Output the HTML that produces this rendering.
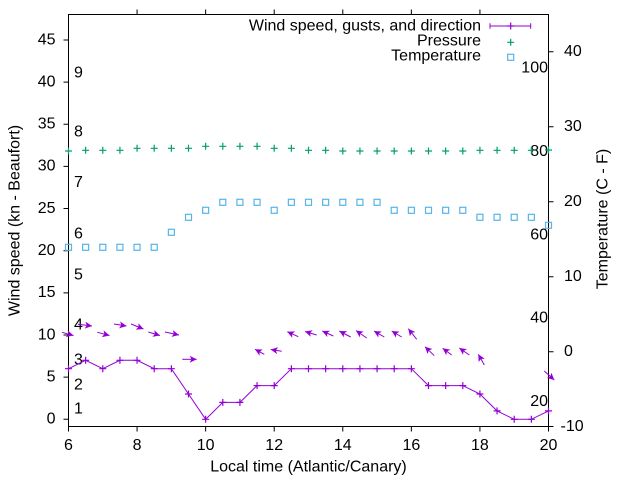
<!DOCTYPE html>
<html>
<head>
<meta charset="utf-8">
<style>
  html,body{margin:0;padding:0;background:#fff;}
  svg{display:block;}
  text{font-family:"Liberation Sans",Arial,sans-serif;font-size:16px;fill:#000;}
</style>
</head>
<body>
<svg width="640" height="480" viewBox="0 0 640 480" xmlns="http://www.w3.org/2000/svg">
  <defs>
    <path id="pl" d="M-3.5,0h7M0,-3.5v7" fill="none"/>
    <rect id="sq" x="-3" y="-3" width="6" height="6" fill="none"/>
    <marker id="ah" viewBox="0 0 10 10" refX="10" refY="5" markerWidth="7" markerHeight="7" orient="auto" markerUnits="userSpaceOnUse">
      <path d="M0,0 L10,5 L0,10 L2.5,5 z" fill="#9400d3"/>
    </marker>
  </defs>
  <rect x="0" y="0" width="640" height="480" fill="#fff"/>

  <!-- frame -->
  <rect x="68.5" y="14.5" width="480" height="412" fill="none" stroke="#000" stroke-width="1"/>

  <!-- left ticks -->
  <g stroke="#000" stroke-width="1">
    <path d="M63.5,419.3h5M63.5,377.15h5M63.5,335h5M63.5,292.85h5M63.5,250.7h5M63.5,208.55h5M63.5,166.4h5M63.5,124.25h5M63.5,82.1h5M63.5,39.95h5"/>
    <!-- bottom ticks -->
    <path d="M68.5,426.5v5M137.07,426.5v5M205.64,426.5v5M274.21,426.5v5M342.79,426.5v5M411.36,426.5v5M479.93,426.5v5M548.5,426.5v5"/>
    <!-- top ticks -->
    <path d="M137.07,14.5v-5M205.64,14.5v-5M274.21,14.5v-5M342.79,14.5v-5M411.36,14.5v-5M479.93,14.5v-5"/>
    <!-- right ticks -->
    <path d="M548.5,51.7h5M548.5,126.7h5M548.5,201.7h5M548.5,276.7h5M548.5,351.7h5M548.5,426.5h5"/>
  </g>

  <!-- left tick labels -->
  <g text-anchor="end">
    <text x="55.5" y="423.6">0</text>
    <text x="55.5" y="381.5">5</text>
    <text x="55.5" y="339.3">10</text>
    <text x="55.5" y="297.2">15</text>
    <text x="55.5" y="255">20</text>
    <text x="55.5" y="212.9">25</text>
    <text x="55.5" y="170.7">30</text>
    <text x="55.5" y="128.6">35</text>
    <text x="55.5" y="86.5">40</text>
    <text x="55.5" y="44.6">45</text>
  </g>

  <!-- bottom tick labels -->
  <g text-anchor="middle">
    <text x="68.5" y="450">6</text>
    <text x="137.07" y="450">8</text>
    <text x="205.64" y="450">10</text>
    <text x="274.21" y="450">12</text>
    <text x="342.79" y="450">14</text>
    <text x="411.36" y="450">16</text>
    <text x="479.93" y="450">18</text>
    <text x="548.5" y="450">20</text>
  </g>

  <!-- right tick labels (C) -->
  <g>
    <text x="564" y="56">40</text>
    <text x="564" y="131">30</text>
    <text x="564" y="206">20</text>
    <text x="564" y="281">10</text>
    <text x="564" y="356">0</text>
    <text x="560.5" y="431">-10</text>
  </g>

  <!-- Fahrenheit labels inside -->
  <g text-anchor="end">
    <text x="548" y="72.7">100</text>
    <text x="548" y="156">80</text>
    <text x="548" y="239.3">60</text>
    <text x="548" y="322.7">40</text>
    <text x="548" y="406">20</text>
  </g>

  <!-- Beaufort labels inside -->
  <g>
    <text x="74" y="413.3">1</text>
    <text x="74" y="389.3">2</text>
    <text x="74" y="364.3">3</text>
    <text x="74" y="329.3">4</text>
    <text x="74" y="279.5">5</text>
    <text x="74" y="238.3">6</text>
    <text x="74" y="187">7</text>
    <text x="74" y="136.7">8</text>
    <text x="74" y="77.3">9</text>
  </g>

  <!-- axis titles -->
  <text x="308.5" y="471.7" text-anchor="middle">Local time (Atlantic/Canary)</text>
  <text transform="translate(19.3,220.5) rotate(-90)" text-anchor="middle">Wind speed (kn - Beaufort)</text>
  <text transform="translate(607.7,219) rotate(-90)" text-anchor="middle">Temperature (C - F)</text>

  <!-- pressure -->
  <g stroke="#009e73" stroke-width="1.2">
    <use href="#pl" x="68.5" y="151"/>
    <use href="#pl" x="85.64" y="150.3"/>
    <use href="#pl" x="102.79" y="150.3"/>
    <use href="#pl" x="119.93" y="150.3"/>
    <use href="#pl" x="137.07" y="148.3"/>
    <use href="#pl" x="154.21" y="148.3"/>
    <use href="#pl" x="171.36" y="148.3"/>
    <use href="#pl" x="188.5" y="148.3"/>
    <use href="#pl" x="205.64" y="146.3"/>
    <use href="#pl" x="222.79" y="146.3"/>
    <use href="#pl" x="239.93" y="146.3"/>
    <use href="#pl" x="257.07" y="146.3"/>
    <use href="#pl" x="274.21" y="148.3"/>
    <use href="#pl" x="291.36" y="148.3"/>
    <use href="#pl" x="308.5" y="150.3"/>
    <use href="#pl" x="325.64" y="150.3"/>
    <use href="#pl" x="342.79" y="151"/>
    <use href="#pl" x="359.93" y="151"/>
    <use href="#pl" x="377.07" y="151"/>
    <use href="#pl" x="394.21" y="151"/>
    <use href="#pl" x="411.36" y="151"/>
    <use href="#pl" x="428.5" y="151"/>
    <use href="#pl" x="445.64" y="151"/>
    <use href="#pl" x="462.79" y="151"/>
    <use href="#pl" x="479.93" y="150.3"/>
    <use href="#pl" x="497.07" y="150.3"/>
    <use href="#pl" x="514.21" y="150.3"/>
    <use href="#pl" x="531.36" y="150.3"/>
    <use href="#pl" x="548.5" y="150"/>
  </g>

  <!-- temperature -->
  <g stroke="#56b4e9" stroke-width="1.2">
    <use href="#sq" x="68.5" y="247.3"/>
    <use href="#sq" x="85.64" y="247.3"/>
    <use href="#sq" x="102.79" y="247.3"/>
    <use href="#sq" x="119.93" y="247.3"/>
    <use href="#sq" x="137.07" y="247.3"/>
    <use href="#sq" x="154.21" y="247.3"/>
    <use href="#sq" x="171.36" y="232.3"/>
    <use href="#sq" x="188.5" y="217.3"/>
    <use href="#sq" x="205.64" y="210.3"/>
    <use href="#sq" x="222.79" y="202.3"/>
    <use href="#sq" x="239.93" y="202.3"/>
    <use href="#sq" x="257.07" y="202.3"/>
    <use href="#sq" x="274.21" y="210.3"/>
    <use href="#sq" x="291.36" y="202.3"/>
    <use href="#sq" x="308.5" y="202.3"/>
    <use href="#sq" x="325.64" y="202.3"/>
    <use href="#sq" x="342.79" y="202.3"/>
    <use href="#sq" x="359.93" y="202.3"/>
    <use href="#sq" x="377.07" y="202.3"/>
    <use href="#sq" x="394.21" y="210.3"/>
    <use href="#sq" x="411.36" y="210.3"/>
    <use href="#sq" x="428.5" y="210.3"/>
    <use href="#sq" x="445.64" y="210.3"/>
    <use href="#sq" x="462.79" y="210.3"/>
    <use href="#sq" x="479.93" y="217.3"/>
    <use href="#sq" x="497.07" y="217.3"/>
    <use href="#sq" x="514.21" y="217.3"/>
    <use href="#sq" x="531.36" y="217.3"/>
    <use href="#sq" x="548.5" y="225.3"/>
  </g>

  <!-- wind speed line -->
  <polyline fill="none" stroke="#9400d3" stroke-width="1" points="68.5,368.7 85.64,360.3 102.79,368.7 119.93,360.3 137.07,360.3 154.21,368.7 171.36,368.7 188.5,394.0 205.64,419.3 222.79,402.4 239.93,402.4 257.07,385.6 274.21,385.6 291.36,368.7 308.5,368.7 325.64,368.7 342.79,368.7 359.93,368.7 377.07,368.7 394.21,368.7 411.36,368.7 428.5,385.6 445.64,385.6 462.79,385.6 479.93,394.0 497.07,410.9 514.21,419.3 531.36,419.3 548.5,410.9"/>
  <g stroke="#9400d3" stroke-width="1.2">
    <use href="#pl" x="68.5" y="368.7"/>
    <use href="#pl" x="85.64" y="360.3"/>
    <use href="#pl" x="102.79" y="368.7"/>
    <use href="#pl" x="119.93" y="360.3"/>
    <use href="#pl" x="137.07" y="360.3"/>
    <use href="#pl" x="154.21" y="368.7"/>
    <use href="#pl" x="171.36" y="368.7"/>
    <use href="#pl" x="188.5" y="394.0"/>
    <use href="#pl" x="205.64" y="419.3"/>
    <use href="#pl" x="222.79" y="402.4"/>
    <use href="#pl" x="239.93" y="402.4"/>
    <use href="#pl" x="257.07" y="385.6"/>
    <use href="#pl" x="274.21" y="385.6"/>
    <use href="#pl" x="291.36" y="368.7"/>
    <use href="#pl" x="308.5" y="368.7"/>
    <use href="#pl" x="325.64" y="368.7"/>
    <use href="#pl" x="342.79" y="368.7"/>
    <use href="#pl" x="359.93" y="368.7"/>
    <use href="#pl" x="377.07" y="368.7"/>
    <use href="#pl" x="394.21" y="368.7"/>
    <use href="#pl" x="411.36" y="368.7"/>
    <use href="#pl" x="428.5" y="385.6"/>
    <use href="#pl" x="445.64" y="385.6"/>
    <use href="#pl" x="462.79" y="385.6"/>
    <use href="#pl" x="479.93" y="394.0"/>
    <use href="#pl" x="497.07" y="410.9"/>
    <use href="#pl" x="514.21" y="419.3"/>
    <use href="#pl" x="531.36" y="419.3"/>
    <use href="#pl" x="548.5" y="410.9"/>
  </g>

  <!-- wind direction arrows -->
  <g stroke="#9400d3" stroke-width="1" marker-end="url(#ah)">
    <line x1="62" y1="332.3" x2="73.5" y2="335.5"/>
    <line x1="78" y1="324.3" x2="92" y2="326"/>
    <line x1="97.3" y1="332.3" x2="109.5" y2="335.5"/>
    <line x1="114" y1="324" x2="126.5" y2="326"/>
    <line x1="131" y1="324" x2="143.5" y2="329"/>
    <line x1="148.3" y1="332" x2="160" y2="335.5"/>
    <line x1="165" y1="332" x2="179" y2="335"/>
    <line x1="182.3" y1="359.3" x2="196.7" y2="359.3"/>
    <line x1="264.3" y1="354.3" x2="255" y2="349.3"/>
    <line x1="281.7" y1="351.3" x2="270.7" y2="349.5"/>
    <line x1="298.3" y1="336.7" x2="287.3" y2="331.7"/>
    <line x1="316.7" y1="335" x2="305" y2="331.5"/>
    <line x1="333.3" y1="336" x2="322.3" y2="331"/>
    <line x1="350.7" y1="337" x2="339.3" y2="331"/>
    <line x1="366.7" y1="338" x2="356" y2="330.5"/>
    <line x1="384.3" y1="337" x2="374" y2="331"/>
    <line x1="401.7" y1="337" x2="391.7" y2="331"/>
    <line x1="416.7" y1="339.3" x2="408.3" y2="328.7"/>
    <line x1="434.3" y1="355.7" x2="425" y2="346.7"/>
    <line x1="451.7" y1="355" x2="442.7" y2="348.3"/>
    <line x1="469.3" y1="355" x2="459.3" y2="348"/>
    <line x1="484.3" y1="365" x2="478.3" y2="354.3"/>
    <line x1="544.3" y1="371" x2="554.3" y2="380"/>
  </g>

  <!-- legend -->
  <g text-anchor="end">
    <text x="481" y="30.7">Wind speed, gusts, and direction</text>
    <text x="481" y="45.7">Pressure</text>
    <text x="481" y="60.7">Temperature</text>
  </g>
  <g stroke="#9400d3" stroke-width="1">
    <path d="M490,26H530.7M490,23.3v5.4M530.7,23.3v5.4"/>
    <use href="#pl" x="510.7" y="26" stroke-width="1.2"/>
  </g>
  <use href="#pl" x="510.7" y="42.3" stroke="#009e73" stroke-width="1.2"/>
  <use href="#sq" x="510.7" y="57.3" stroke="#56b4e9" stroke-width="1.2"/>
</svg>
</body>
</html>
